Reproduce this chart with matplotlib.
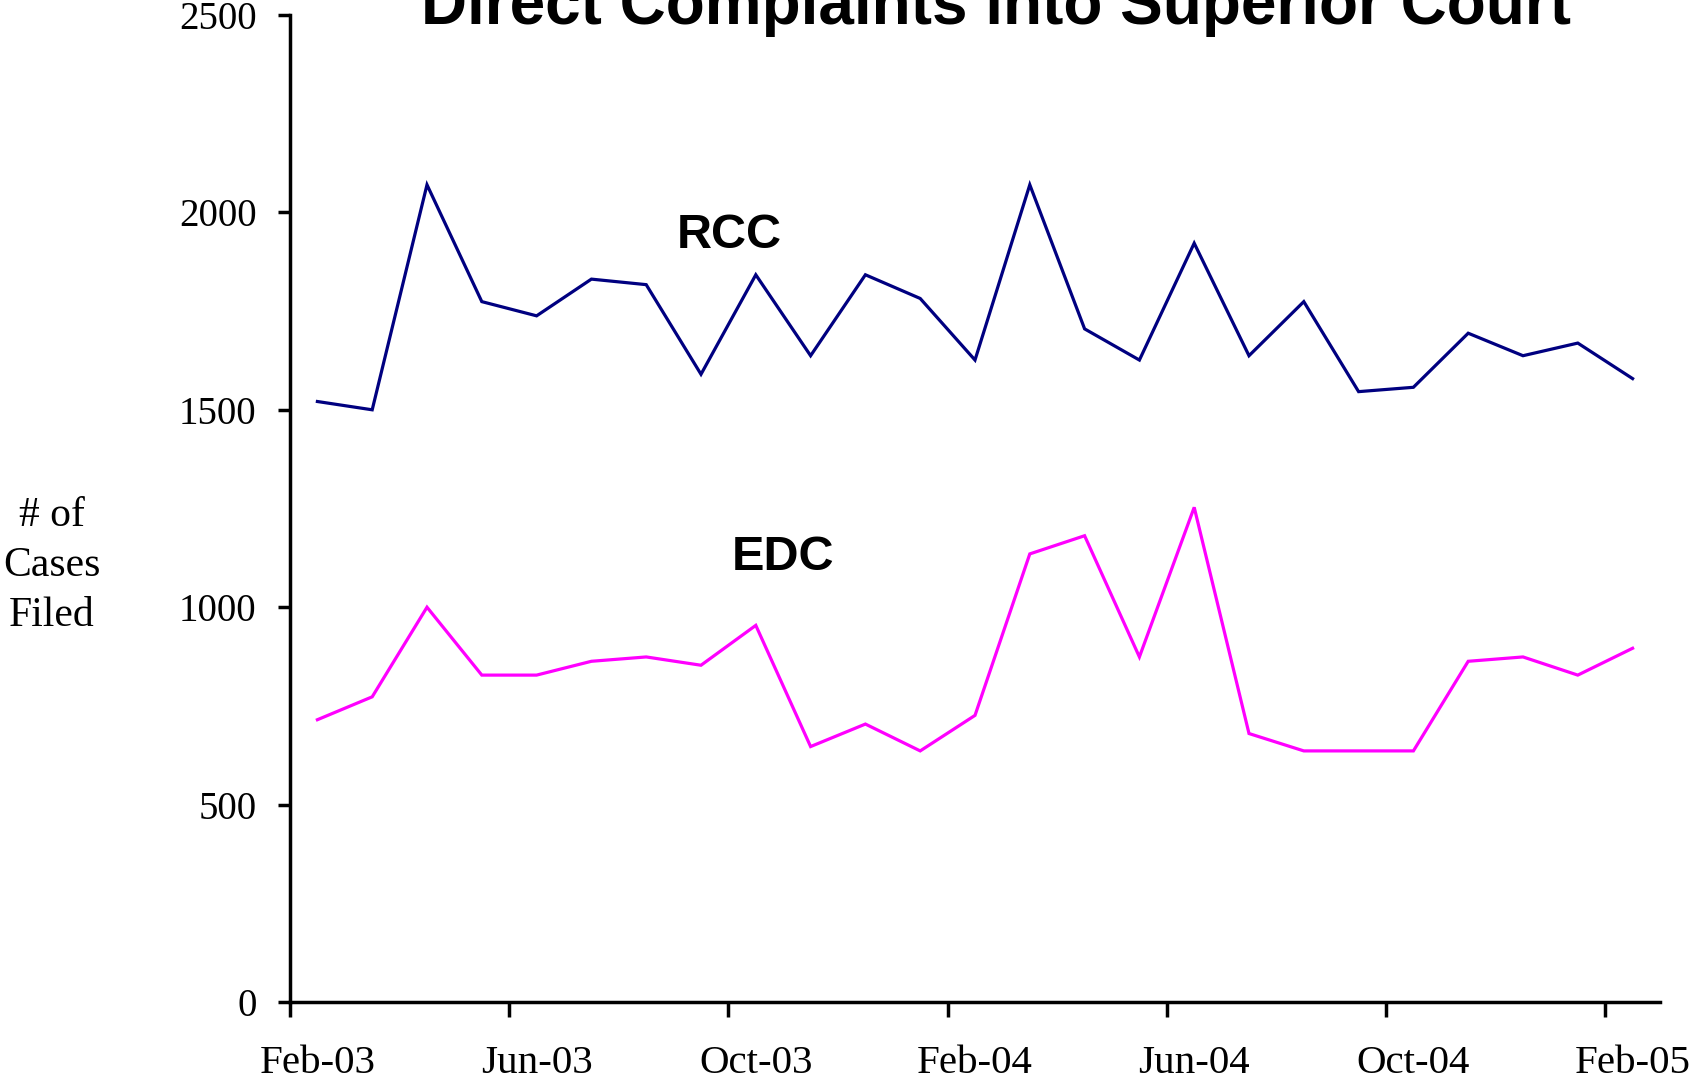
import matplotlib
matplotlib.use("Agg")
import matplotlib.pyplot as plt
from matplotlib import font_manager

# monthly filings, Feb-03 .. Feb-05
months = ["Feb-03", "Mar-03", "Apr-03", "May-03", "Jun-03", "Jul-03", "Aug-03",
          "Sep-03", "Oct-03", "Nov-03", "Dec-03", "Jan-04", "Feb-04", "Mar-04",
          "Apr-04", "May-04", "Jun-04", "Jul-04", "Aug-04", "Sep-04", "Oct-04",
          "Nov-04", "Dec-04", "Jan-05", "Feb-05"]
rcc = [1521, 1500, 2070, 1774, 1738, 1831, 1817, 1590, 1842, 1637, 1842, 1782,
       1626, 2070, 1705, 1626, 1922, 1637, 1774, 1546, 1557, 1694, 1637, 1669, 1579]
edc = [715, 773, 1000, 828, 828, 863, 874, 853, 954, 647, 704, 636,
       726, 1135, 1181, 874, 1253, 680, 636, 636, 636, 863, 874, 828, 896]
y_ticks = [0, 500, 1000, 1500, 2000, 2500]


def _has_font(name):
    try:
        font_manager.findfont(name, fallback_to_default=False)
        return True
    except ValueError:
        return False


narrow = _has_font("Liberation Sans Narrow")
sans = "Liberation Sans Narrow" if narrow else "Liberation Sans"
serif = "Liberation Serif"

fig = plt.figure(figsize=(16.96, 10.86), dpi=100)
ax = fig.add_axes([290 / 1696, 1 - 1002 / 1086, 1370 / 1696, 987 / 1086])

x = [i + 0.5 for i in range(len(months))]
ax.plot(x, rcc, color="#000080", lw=2.3, solid_joinstyle="miter")
ax.plot(x, edc, color="#FF00FF", lw=2.3, solid_joinstyle="miter")

ax.set_xlim(0, len(months))
ax.set_ylim(0, 2500)

for side in ("top", "right"):
    ax.spines[side].set_visible(False)
for side in ("left", "bottom"):
    ax.spines[side].set_linewidth(2.5)

# ticks at month boundaries, labels centred on the month
major = list(range(0, len(months), 4))
ax.set_xticks(major)
ax.set_xticklabels([])
ax.set_xticks([m + 0.5 for m in major], minor=True)
ax.set_xticklabels(months[::4], minor=True, fontsize=29.5, family=serif)
ax.tick_params(axis="x", which="major", length=11, width=2.5, direction="out")
ax.tick_params(axis="x", which="minor", length=0, pad=31)

ax.set_yticks(y_ticks)
ax.set_yticklabels([str(v) for v in y_ticks], fontsize=28, family=serif)
ax.tick_params(axis="y", length=9, width=2.5, direction="out", pad=15)

lbl_size = 42 if narrow else 35
ax.text(7.05, 1910, "RCC", fontsize=lbl_size, weight="bold", family=sans,
        ha="left", va="baseline")
ax.text(8.07, 1094, "EDC", fontsize=lbl_size, weight="bold", family=sans,
        ha="left", va="baseline")

fig.text(52 / 1696, 0.479, "# of\nCases\nFiled", fontsize=30, family=serif,
         ha="center", va="center", multialignment="center", linespacing=1.4)

title_size = 56 if narrow else 46
fig.text(996 / 1696, 1 - 24 / 1086, "Direct Complaints into Superior Court",
         fontsize=title_size, weight="bold", family=sans, ha="center", va="baseline")

fig.savefig("out.png", dpi=100)
plt.close(fig)
